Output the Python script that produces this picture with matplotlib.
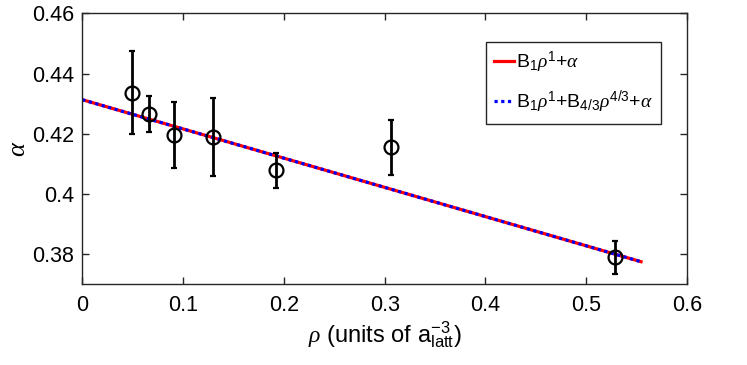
import numpy as np
import matplotlib
matplotlib.use('Agg')
import matplotlib.pyplot as plt

plt.rcParams['font.family'] = ['Liberation Sans', 'DejaVu Sans']
plt.rcParams['mathtext.fontset'] = 'custom'
plt.rcParams['mathtext.rm'] = 'Liberation Sans'
plt.rcParams['mathtext.it'] = 'Liberation Serif:italic'

# data
rho = [0.0497, 0.0658, 0.0907, 0.1294, 0.1923, 0.3059, 0.5286]
alpha = [0.4335, 0.4266, 0.4197, 0.4188, 0.4079, 0.4156, 0.3791]
err_lo = [0.0136, 0.0059, 0.0110, 0.0127, 0.0059, 0.0092, 0.0056]
err_hi = [0.0139, 0.0060, 0.0109, 0.0132, 0.0058, 0.0090, 0.0053]

# fit lines
fit_x = [0.0, 0.5544]
fit_lin = [0.4313, 0.3775]
fit_43 = [0.4313, 0.3775]

fig = plt.figure(figsize=(7.47, 3.65), dpi=100)
ax = fig.add_axes([0.1102, 0.2211, 0.8095, 0.7425])

ax.plot(fit_x, fit_lin, color='red', lw=2.3, label=r'B$_1\rho^1$+$\alpha$')
ax.plot(fit_x, fit_43, color='blue', lw=2.3, linestyle=(0, (1, 1.1)),
        label=r'B$_1\rho^1$+B$_{4/3}\rho^{4/3}$+$\alpha$')
ax.errorbar(rho, alpha, yerr=[err_lo, err_hi], fmt='o', color='black',
            mfc='none', ms=10, mew=1.6, elinewidth=2, capsize=2.5, capthick=2)

ax.set_xlim(0, 0.6)
ax.set_ylim(0.37, 0.46)
ax.set_xticks([0, 0.1, 0.2, 0.3, 0.4, 0.5, 0.6])
ax.set_xticklabels(['0', '0.1', '0.2', '0.3', '0.4', '0.5', '0.6'])
ax.set_yticks([0.38, 0.40, 0.42, 0.44, 0.46])
ax.set_yticklabels(['0.38', '0.4', '0.42', '0.44', '0.46'])
ax.tick_params(direction='in', length=5, width=1, top=True, right=True,
               labelsize=15.5, color='#262626')
ax.tick_params(axis='x', pad=8)
ax.tick_params(axis='y', pad=6)
for s in ax.spines.values():
    s.set_color('#262626')
    s.set_linewidth(1)

ax.set_xlabel(r'$\rho$ (units of a$_{\rm latt}^{-3}$)', fontsize=17, labelpad=2)
ax.set_ylabel(r'$\alpha$', fontsize=19, labelpad=1)

leg = ax.legend(loc='upper right', bbox_to_anchor=(0.957, 0.894), borderaxespad=0,
                fontsize=14, handlelength=1.0, handletextpad=0.15, fancybox=False,
                framealpha=1, edgecolor='#262626', labelspacing=0.7,
                borderpad=0.4)
leg.get_frame().set_linewidth(1)

fig.savefig('out.png', dpi=100)
